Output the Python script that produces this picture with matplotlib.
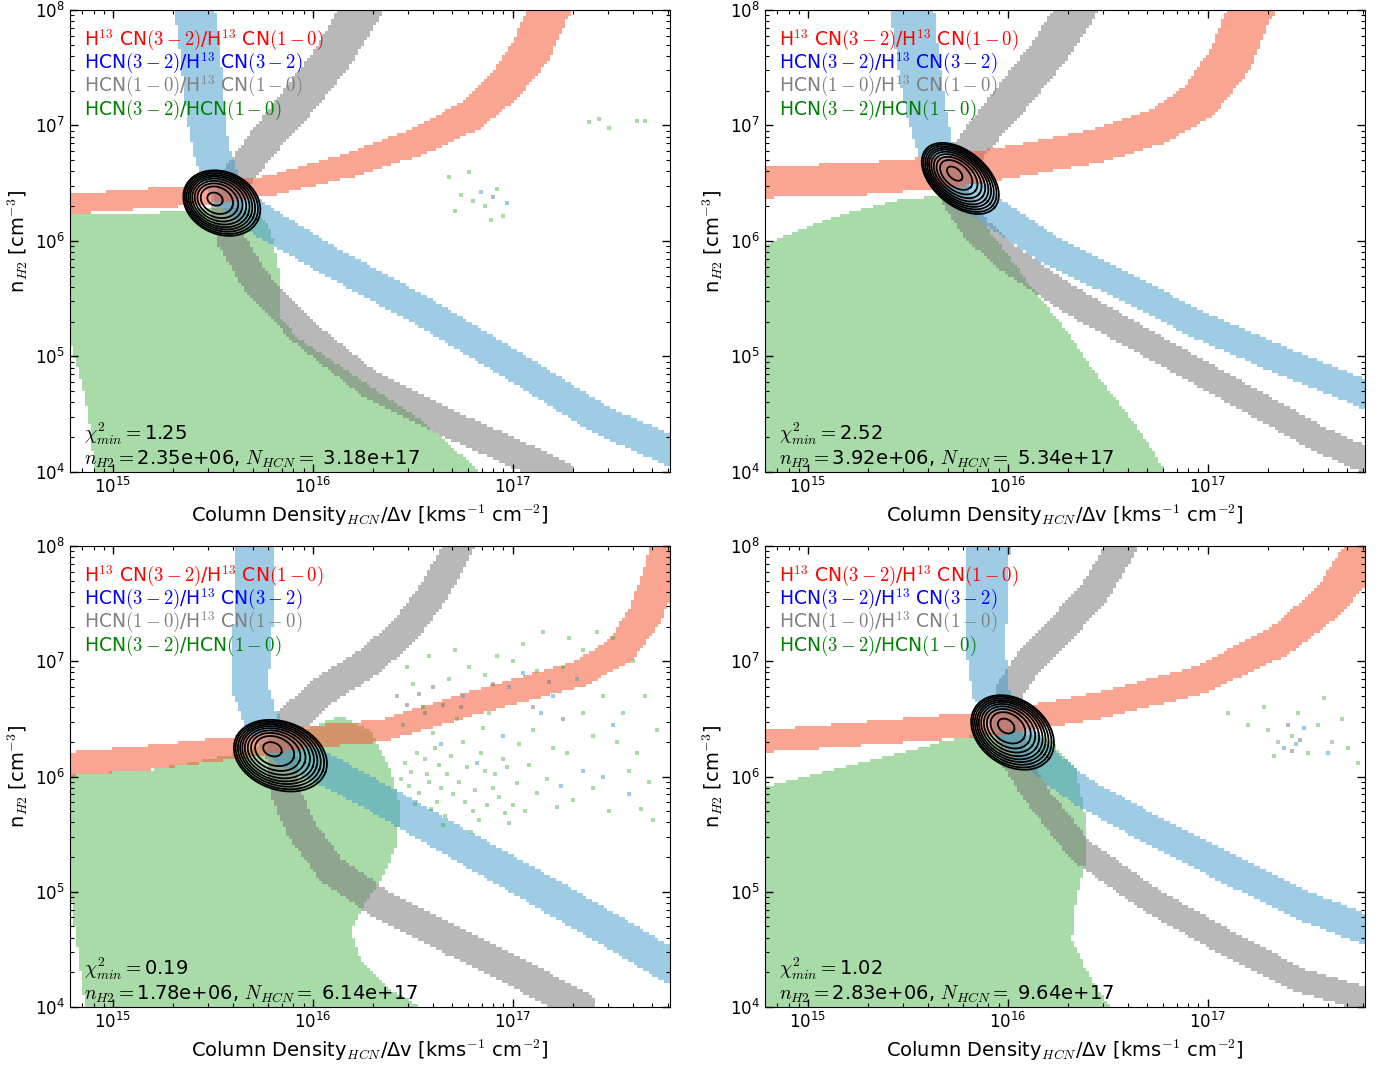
import numpy as np
import matplotlib
matplotlib.use("Agg")
import matplotlib.pyplot as plt
from matplotlib.colors import ListedColormap
from matplotlib.path import Path

plt.rcParams["mathtext.fontset"] = "cm"
plt.rcParams["font.family"] = "DejaVu Sans"

# best fit values quoted in each panel
chi2_min = [1.25, 2.52, 0.19, 1.02]
n_best = [2.35e6, 3.92e6, 1.78e6, 2.83e6]
N_best = [3.18e17, 5.34e17, 6.14e17, 9.64e17]
dv = 100.0  # x axis is N / dv

# band centre lines, log10(N/dv) and log10(n_H2)
red_x = [[14.70, 15.44, 15.79, 16.19, 16.54, 16.79, 16.96, 17.09, 17.18, 17.22],
         [14.70, 15.21, 15.71, 16.06, 16.46, 16.76, 16.96, 17.11, 17.21, 17.25],
         [14.70, 15.19, 15.69, 15.94, 16.34, 16.84, 17.34, 17.54, 17.66, 17.74, 17.78, 17.80],
         [14.70, 15.46, 15.96, 16.46, 16.96, 17.36, 17.61, 17.74, 17.81]]
red_y = [[6.31, 6.40, 6.48, 6.66, 6.87, 7.09, 7.35, 7.65, 8.00, 8.10],
         [6.51, 6.53, 6.60, 6.70, 6.83, 7.00, 7.22, 7.57, 8.00, 8.10],
         [6.10, 6.17, 6.27, 6.34, 6.40, 6.66, 6.90, 7.10, 7.40, 7.75, 8.00, 8.14],
         [6.30, 6.40, 6.47, 6.62, 6.84, 7.18, 7.53, 7.84, 8.05]]
red_hw = [[10, 10, 10, 12, 14, 16, 18, 20, 20, 20],
          [16, 16, 16, 16, 17, 18, 20, 22, 22, 22],
          [12, 12, 11, 11, 11, 12, 13, 15, 17, 18, 18, 18],
          [11, 12, 12, 13, 14, 16, 18, 20, 20]]

blue_x = [[15.40, 15.41, 15.44, 15.46, 15.49, 15.56, 15.74, 16.09, 16.54, 17.04, 17.44, 17.78, 17.85],
          [15.51, 15.52, 15.55, 15.59, 15.64, 15.74, 15.91, 16.21, 16.61, 16.96, 17.36, 17.79, 17.85],
          [15.71, 15.71, 15.71, 15.69, 15.69, 15.74, 15.86, 16.09, 16.34, 16.69, 17.19, 17.54, 17.78, 17.85],
          [15.90, 15.90, 15.89, 15.89, 15.91, 15.99, 16.11, 16.36, 16.71, 17.11, 17.46, 17.79, 17.85]]
blue_y = [[8.10, 8.00, 7.57, 7.13, 6.79, 6.44, 6.18, 5.82, 5.40, 4.88, 4.45, 4.19, 4.13],
          [8.10, 8.00, 7.57, 7.13, 6.79, 6.53, 6.27, 5.92, 5.58, 5.27, 4.97, 4.67, 4.62],
          [8.10, 8.00, 7.53, 7.10, 6.75, 6.49, 6.23, 6.04, 5.80, 5.45, 4.96, 4.61, 4.36, 4.30],
          [8.10, 8.00, 7.53, 7.10, 6.75, 6.49, 6.23, 5.88, 5.54, 5.19, 4.89, 4.67, 4.64]]
blue_hw = [[20, 20, 20, 19, 18, 17, 16, 15, 15, 15, 15, 15, 15],
           [22, 22, 21, 20, 18, 16, 15, 15, 14, 14, 14, 14, 14],
           [20, 20, 20, 19, 18, 17, 16, 16, 16, 16, 17, 17, 17, 17],
           [22, 22, 21, 20, 18, 17, 16, 15, 15, 15, 15, 15, 15]]

gray_x = [[16.26, 16.24, 16.09, 15.91, 15.74, 15.61, 15.56, 15.59, 15.71, 15.94, 16.29, 16.69, 17.09, 17.24],
          [16.36, 16.34, 16.21, 16.01, 15.84, 15.74, 15.74, 15.84, 16.01, 16.31, 16.71, 17.21, 17.56, 17.85],
          [16.75, 16.73, 16.61, 16.46, 16.29, 16.04, 15.89, 15.84, 15.86, 15.94, 16.09, 16.34, 16.69, 17.04, 17.34],
          [16.60, 16.57, 16.44, 16.26, 16.11, 16.01, 15.99, 16.04, 16.16, 16.36, 16.71, 17.11, 17.46, 17.85]]
gray_y = [[8.10, 8.00, 7.57, 7.18, 6.83, 6.53, 6.27, 6.01, 5.66, 5.23, 4.75, 4.41, 4.10, 3.97],
          [8.10, 8.00, 7.65, 7.22, 6.87, 6.61, 6.36, 6.10, 5.84, 5.49, 5.10, 4.62, 4.28, 4.06],
          [8.10, 8.00, 7.62, 7.27, 7.01, 6.73, 6.49, 6.21, 5.88, 5.54, 5.19, 4.89, 4.58, 4.28, 4.00],
          [8.10, 8.00, 7.62, 7.27, 7.01, 6.75, 6.49, 6.14, 5.80, 5.36, 4.93, 4.54, 4.23, 4.04]]
gray_hw = [[20, 20, 19, 18, 16, 15, 14, 14, 14, 14, 14, 14, 14, 14],
           [20, 20, 19, 18, 16, 15, 14, 14, 14, 14, 13, 13, 13, 13],
           [15, 15, 15, 15, 15, 15, 15, 15, 15, 15, 15, 15, 15, 15, 15],
           [15, 15, 15, 15, 14, 14, 14, 14, 13, 13, 13, 13, 12, 12]]

# outline of the HCN(3-2)/HCN(1-0) region
green_x = [[14.70, 15.19, 15.54, 15.71, 15.79, 15.83, 15.84, 15.94, 16.24, 16.54, 16.84, 14.91, 14.88, 14.84, 14.79, 14.70],
           [14.70, 14.96, 15.21, 15.46, 15.69, 15.84, 15.96, 16.11, 16.29, 16.46, 16.64, 16.79, 14.70],
           [14.70, 15.19, 15.59, 15.94, 16.14, 16.29, 16.39, 16.44, 16.41, 16.34, 16.24, 16.19, 16.24,
            16.39, 16.54, 14.86, 14.83, 14.79, 14.70],
           [14.70, 15.21, 15.71, 16.01, 16.21, 16.34, 16.39, 16.39, 16.34, 16.32, 16.39, 16.51, 14.70]]
green_y = [[6.225, 6.24, 6.29, 6.27, 6.10, 5.75, 5.32, 5.14, 4.80, 4.45, 4.00, 4.00, 4.45, 4.80, 5.10, 5.10],
           [5.90, 6.10, 6.25, 6.36, 6.39, 6.23, 5.97, 5.62, 5.23, 4.80, 4.41, 4.00, 4.00],
           [6.01, 6.06, 6.19, 6.40, 6.53, 6.40, 6.06, 5.71, 5.36, 5.10, 4.84, 4.67, 4.41,
            4.15, 4.00, 4.00, 4.41, 4.93, 4.93],
           [5.88, 6.10, 6.32, 6.42, 6.32, 6.06, 5.62, 5.28, 4.93, 4.58, 4.32, 4.00, 4.00]]

# isolated noisy cells (log10 x, log10 y) per panel and ratio
speck_green = [[(16.68, 6.55), (16.74, 6.40), (16.80, 6.35), (16.86, 6.30), (16.92, 6.45), (16.95, 6.22),
                (16.78, 6.60), (16.71, 6.26), (16.89, 6.18), (17.38, 7.03), (17.43, 7.06), (17.48, 6.98),
                (17.62, 7.04), (17.66, 7.04)],
               [],
               [(16.45, 6.45), (16.52, 6.20), (16.58, 5.95), (16.63, 6.10), (16.70, 5.85), (16.75, 6.30),
                (16.80, 5.70), (16.86, 6.05), (16.90, 5.90), (16.95, 6.15), (17.00, 5.75), (16.62, 5.78),
                (16.48, 5.92), (16.55, 6.60), (16.68, 6.85), (16.78, 6.95), (16.92, 7.05), (17.05, 7.15),
                (17.15, 7.25), (17.25, 6.95), (17.35, 7.10), (17.45, 6.70), (17.55, 6.55), (17.62, 6.20),
                (17.68, 5.95), (17.10, 6.40), (17.20, 6.25), (16.88, 6.55), (16.72, 6.50), (17.30, 5.80),
                (16.98, 5.60), (16.83, 5.62), (16.60, 6.38), (17.40, 6.35), (17.50, 7.20), (16.50, 6.80),
                (17.70, 5.62), (16.57, 6.02), (16.66, 5.66), (16.93, 5.82),
                (16.46, 6.12), (16.49, 6.04), (16.53, 5.86), (16.56, 6.15), (16.59, 5.72), (16.61, 6.25),
                (16.64, 5.90), (16.67, 6.02), (16.69, 6.18), (16.73, 5.95), (16.76, 5.78), (16.77, 6.08),
                (16.81, 5.88), (16.84, 6.20), (16.87, 5.75), (16.91, 6.02), (16.96, 5.68), (17.02, 5.94),
                (17.06, 5.70), (17.08, 6.10), (17.12, 5.86), (17.17, 5.98), (17.22, 5.74), (16.51, 5.76),
                (16.44, 5.98), (16.65, 5.58), (16.79, 5.52), (16.97, 6.08), (17.03, 6.28), (16.85, 6.42),
                (16.47, 6.95), (16.58, 7.05), (16.71, 7.10), (16.86, 6.88), (17.00, 7.00), (17.12, 6.92),
                (17.28, 7.20), (17.42, 7.25), (17.60, 7.00), (17.66, 6.70), (17.72, 6.40), (17.52, 6.30),
                (17.58, 6.05), (17.40, 5.90), (17.48, 5.70), (17.64, 5.72), (17.35, 6.55), (17.27, 6.20)],
               [(17.10, 6.55), (17.20, 6.45), (17.30, 6.40), (17.35, 6.30), (17.42, 6.35), (17.50, 6.20),
                (17.55, 6.45), (17.62, 6.30), (17.70, 6.25), (17.75, 6.12), (17.28, 6.60), (17.45, 6.55),
                (17.33, 6.18), (17.58, 6.68), (17.67, 6.50)]]
speck_blue = [[(16.84, 6.42), (16.97, 6.33)], [],
              [(16.95, 6.35), (17.20, 6.70), (17.35, 6.05), (17.05, 6.90), (17.45, 6.00), (16.75, 6.70),
               (17.58, 5.85), (16.64, 6.28), (16.82, 6.12), (17.14, 6.55), (17.32, 6.85), (17.50, 6.45),
               (16.98, 6.78), (17.24, 5.92)],
              [(17.38, 6.25), (17.48, 6.42), (17.60, 6.20), (17.44, 6.28)]]
speck_gray = [[(16.90, 6.38)], [],
              [(16.47, 6.62), (16.53, 6.72), (16.65, 6.62), (16.90, 6.80), (17.10, 6.60), (17.25, 6.50),
               (16.42, 6.70), (16.56, 6.55), (16.60, 6.78), (16.74, 6.60), (17.18, 6.82)],
              [(17.40, 6.45), (17.46, 6.32), (17.42, 6.22)]]

# chi2 contour shapes (px): semi axes, tilt, drift of the outer rings
cont_a = [40, 45, 48, 45]
cont_b = [31, 27, 34, 33]
cont_ang = [-25, -40, -20, -35]
cont_off = [(8.5, -5), (7, -6), (10, -8), (8, -8)]
cont_scale = [0.2, 0.42, 0.53, 0.62, 0.7, 0.77, 0.83, 0.89, 0.95, 1.0]

XLO, XHI, YLO, YHI = 14.785, 17.785, 4.0, 8.0
PXX, PXY = 200.0, 115.5  # pixels per decade on the axes

xe = np.linspace(XLO, XHI, 201)
ye = np.linspace(YLO, YHI, 155)
xc = 0.5 * (xe[1:] + xe[:-1])
yc = 0.5 * (ye[1:] + ye[:-1])
GX, GY = np.meshgrid(xc, yc)

COL_GREEN, COL_GRAY, COL_BLUE, COL_RED = "#2aa72a", "#737373", "#419bcd", "#f65b37"


def band_mask(bx, by, hw):
    px = GX * PXX
    py = GY * PXY
    bx = np.asarray(bx) * PXX
    by = np.asarray(by) * PXY
    inside = np.zeros(GX.shape, dtype=bool)
    for i in range(len(bx) - 1):
        dx, dy = bx[i + 1] - bx[i], by[i + 1] - by[i]
        t = ((px - bx[i]) * dx + (py - by[i]) * dy) / (dx * dx + dy * dy)
        t = np.clip(t, 0, 1)
        d = np.hypot(px - bx[i] - t * dx, py - by[i] - t * dy)
        w = hw[i] + t * (hw[i + 1] - hw[i])
        inside |= d < w
    return inside


def poly_mask(gx, gy):
    path = Path(np.column_stack([gx, gy]))
    pts = np.column_stack([GX.ravel(), GY.ravel()])
    return path.contains_points(pts).reshape(GX.shape)


def paint(ax, mask, color, alpha):
    z = np.ma.masked_where(~mask, np.ones(mask.shape))
    ax.pcolormesh(10 ** xe, 10 ** ye, z, cmap=ListedColormap([color]),
                  alpha=alpha, shading="flat", linewidth=0, rasterized=True)


def specks(ax, pts, color, alpha):
    if not pts:
        return
    p = np.array(pts)
    ax.scatter(10 ** p[:, 0], 10 ** p[:, 1], s=7, marker="s", color=color,
               alpha=alpha, linewidths=0)


def rings(ax, x0, y0, a, b, ang, off):
    t = np.linspace(0, 2 * np.pi, 200)
    th = np.deg2rad(ang)
    lx0, ly0 = np.log10(x0), np.log10(y0)
    for s in cont_scale:
        u = s * a * np.cos(t)
        v = s * b * np.sin(t)
        ux = u * np.cos(th) - v * np.sin(th) + s * off[0]
        uy = u * np.sin(th) + v * np.cos(th) + s * off[1]
        ax.plot(10 ** (lx0 + ux / PXX), 10 ** (ly0 + uy / PXY), color="black", lw=1.3)


fig = plt.figure(figsize=(13.85, 10.68), dpi=100)
fig.patch.set_facecolor("white")
positions = [[0.0505, 0.5581, 0.4329, 0.4326], [0.5523, 0.5581, 0.4329, 0.4326],
             [0.0505, 0.0571, 0.4329, 0.4316], [0.5523, 0.0571, 0.4329, 0.4316]]

labels = [(r"H$^{13}$ CN$(3-2)$/H$^{13}$ CN$(1-0)$", "red"),
          (r"HCN$(3-2)$/H$^{13}$ CN$(3-2)$", "blue"),
          (r"HCN$(1-0)$/H$^{13}$ CN$(1-0)$", "gray"),
          (r"HCN$(3-2)$/HCN$(1-0)$", "green")]

for k in range(4):
    ax = fig.add_axes(positions[k])
    ax.set_xscale("log")
    ax.set_yscale("log")

    paint(ax, poly_mask(green_x[k], green_y[k]), COL_GREEN, 0.4)
    paint(ax, band_mask(gray_x[k], gray_y[k], gray_hw[k]), COL_GRAY, 0.5)
    paint(ax, band_mask(blue_x[k], blue_y[k], blue_hw[k]), COL_BLUE, 0.5)
    paint(ax, band_mask(red_x[k], red_y[k], red_hw[k]), COL_RED, 0.55)
    specks(ax, speck_green[k], COL_GREEN, 0.4)
    specks(ax, speck_blue[k], COL_BLUE, 0.5)
    specks(ax, speck_gray[k], COL_GRAY, 0.5)

    rings(ax, N_best[k] / dv, n_best[k], cont_a[k], cont_b[k], cont_ang[k], cont_off[k])

    ax.set_xlim(10 ** XLO, 10 ** XHI)
    ax.set_ylim(10 ** YLO, 10 ** YHI)

    for j, (txt, col) in enumerate(labels):
        ax.text(0.023, 0.922 - 0.0498 * j, txt, color=col, fontsize=13.5,
                transform=ax.transAxes, va="baseline")
    ax.text(0.023, 0.069, r"$\chi^2_{min}=$%.2f" % chi2_min[k], fontsize=14,
            transform=ax.transAxes, va="baseline")
    ax.text(0.023, 0.015, r"$n_{H2}=$%.2e, $N_{HCN}=$ %.2e" % (n_best[k], N_best[k]),
            fontsize=14, transform=ax.transAxes, va="baseline")

    ax.set_xlabel(r"Column Density$_{HCN}$/Δv [kms$^{-1}$ cm$^{-2}$]", fontsize=14)
    ax.set_ylabel(r"n$_{H2}$ [cm$^{-3}$]", fontsize=14)
    ax.tick_params(which="both", direction="in", top=True, right=True, labelsize=12)
    ax.tick_params(which="major", length=6, width=1)
    ax.tick_params(which="minor", length=3, width=0.8)

fig.savefig("out.png", dpi=100, facecolor="white")
